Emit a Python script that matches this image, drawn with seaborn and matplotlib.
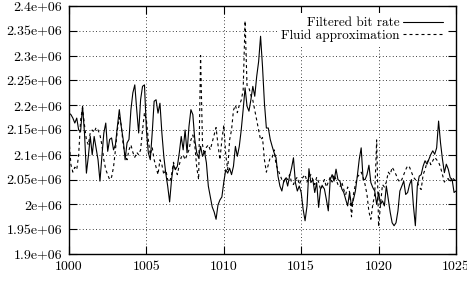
import numpy as np
import pandas as pd
import seaborn as sns
import matplotlib
matplotlib.use("Agg")
import matplotlib.pyplot as plt

# bit rate (in 1e6 units), one sample every 1/8 time unit, 1000 .. 1025
filtered = [
    2.184, 2.181, 2.174, 2.164, 2.174, 2.150, 2.147, 2.198,
    2.144, 2.063, 2.097, 2.137, 2.100, 2.137, 2.114, 2.090,
    2.047, 2.097, 2.144, 2.164, 2.107, 2.131, 2.134, 2.110,
    2.120, 2.157, 2.191, 2.157, 2.131, 2.090, 2.124, 2.131,
    2.191, 2.225, 2.241, 2.191, 2.144, 2.211, 2.238, 2.241,
    2.150, 2.104, 2.090, 2.144, 2.208, 2.211, 2.184, 2.204,
    2.144, 2.097, 2.063, 2.037, 2.005, 2.050, 2.080, 2.070,
    2.077, 2.104, 2.137, 2.110, 2.150, 2.104, 2.157, 2.191,
    2.181, 2.131, 2.104, 2.094, 2.117, 2.097, 2.107, 2.084,
    2.037, 2.016, 1.995, 1.985, 1.970, 1.999, 2.009, 2.015,
    2.045, 2.070, 2.063, 2.073, 2.060, 2.077, 2.117, 2.097,
    2.117, 2.150, 2.191, 2.235, 2.198, 2.188, 2.211, 2.238,
    2.218, 2.258, 2.288, 2.339, 2.278, 2.204, 2.154, 2.154,
    2.131, 2.117, 2.104, 2.094, 2.057, 2.037, 2.027, 2.047,
    2.053, 2.037, 2.057, 2.073, 2.094, 2.044, 2.027, 2.037,
    2.024, 1.990, 1.967, 1.997, 2.072, 2.044, 2.050, 2.024,
    2.044, 1.994, 2.031, 2.037, 2.031, 2.010, 1.987, 2.050,
    2.060, 2.047, 2.071, 2.050, 2.047, 2.031, 2.024, 2.010,
    1.997, 2.024, 1.997, 2.010, 2.027, 2.057, 2.091, 2.114,
    2.050, 2.050, 2.060, 2.079, 2.044, 2.034, 2.027, 2.000,
    2.024, 2.000, 2.007, 1.997, 2.037, 2.010, 1.984, 1.963,
    1.957, 1.963, 1.987, 2.027, 2.037, 2.047, 2.020, 2.024,
    2.040, 2.050, 1.997, 1.957, 2.037, 2.057, 2.060, 2.077,
    2.088, 2.081, 2.091, 2.101, 2.108, 2.101, 2.114, 2.168,
    2.124, 2.091, 2.064, 2.081, 2.071, 2.054, 2.050, 2.024,
    2.027,
]
fluid = [
    2.130, 2.080, 2.065, 2.075, 2.070, 2.100, 2.170, 2.195,
    2.160, 2.130, 2.120, 2.145, 2.150, 2.145, 2.155, 2.150,
    2.140, 2.120, 2.090, 2.070, 2.060, 2.050, 2.055, 2.075,
    2.110, 2.150, 2.175, 2.160, 2.120, 2.100, 2.090, 2.110,
    2.120, 2.105, 2.095, 2.105, 2.100, 2.110, 2.150, 2.185,
    2.170, 2.130, 2.100, 2.115, 2.090, 2.075, 2.060, 2.090,
    2.080, 2.060, 2.070, 2.050, 2.045, 2.060, 2.085, 2.070,
    2.060, 2.080, 2.095, 2.100, 2.090, 2.100, 2.110, 2.130,
    2.140, 2.120, 2.075, 2.050, 2.300, 2.120, 2.100, 2.115,
    2.120, 2.110, 2.125, 2.140, 2.155, 2.120, 2.090, 2.130,
    2.160, 2.100, 2.070, 2.130, 2.150, 2.190, 2.200, 2.185,
    2.200, 2.210, 2.230, 2.370, 2.240, 2.235, 2.220, 2.210,
    2.190, 2.170, 2.150, 2.130, 2.135, 2.090, 2.065, 2.080,
    2.095, 2.095, 2.110, 2.080, 2.070, 2.060, 2.050, 2.045,
    2.055, 2.050, 2.060, 2.045, 2.040, 2.050, 2.055, 2.040,
    2.050, 2.055, 2.060, 2.045, 2.055, 2.060, 2.050, 2.040,
    2.055, 2.045, 2.030, 2.040, 2.050, 2.035, 2.045, 2.055,
    2.045, 2.060, 2.050, 2.040, 2.035, 2.045, 2.030, 2.020,
    2.035, 2.025, 1.975, 2.020, 2.040, 2.055, 2.060, 2.065,
    2.055, 2.040, 2.020, 1.985, 1.970, 2.000, 2.020, 2.130,
    1.955, 2.000, 2.040, 2.035, 2.045, 2.065, 2.060, 2.075,
    2.068, 2.060, 2.050, 2.045, 2.050, 2.060, 2.070, 2.078,
    2.075, 2.065, 2.055, 2.050, 2.045, 2.035, 2.030, 2.060,
    2.070, 2.085, 2.090, 2.080, 2.088, 2.095, 2.090, 2.085,
    2.075, 2.060, 2.045, 2.050, 2.052, 2.045, 2.055, 2.050,
    2.048,
]
time = 1000 + np.arange(len(filtered)) / 8

series_names = ["Filtered bit rate", "Fluid approximation"]
xticks = [1000, 1005, 1010, 1015, 1020, 1025]
yticks = [1.9, 1.95, 2.0, 2.05, 2.1, 2.15, 2.2, 2.25, 2.3, 2.35, 2.4]
ylabels = ["1.9e+06", "1.95e+06", "2e+06", "2.05e+06", "2.1e+06", "2.15e+06",
           "2.2e+06", "2.25e+06", "2.3e+06", "2.35e+06", "2.4e+06"]

df = pd.DataFrame({
    "t": np.concatenate([time, time]),
    "rate": np.array(filtered + fluid) * 1e6,
    "series": [series_names[0]] * len(filtered) + [series_names[1]] * len(fluid),
})

sns.set_theme(style="ticks", rc={"axes.edgecolor": "black", "xtick.color": "black",
                                 "ytick.color": "black", "text.color": "black"})
plt.rcParams["font.family"] = ["cmr10", "DejaVu Serif"]
plt.rcParams["axes.formatter.use_mathtext"] = True

fig = plt.figure(figsize=(4.67, 2.81), dpi=100)
ax = fig.add_axes([69 / 467, 1 - 254 / 281, 387 / 467, 248 / 281])

sns.lineplot(data=df, x="t", y="rate", hue="series", style="series",
             palette=["black", "black"],
             dashes={series_names[0]: "", series_names[1]: (2.7, 2.7)},
             estimator=None, linewidth=0.8, legend=False, ax=ax)

ax.set_xlim(1000, 1025)
ax.set_ylim(1.9e6, 2.4e6)
ax.set_xticks(xticks)
ax.set_xticklabels([str(x) for x in xticks])
ax.set_yticks([v * 1e6 for v in yticks])
ax.set_yticklabels(ylabels)
ax.set_xlabel("")
ax.set_ylabel("")

ax.grid(True, color="black", linestyle=(0, (1, 3)), linewidth=0.6)
ax.set_axisbelow(True)
ax.tick_params(direction="in", top=True, right=True, length=6, width=0.8,
               labelsize=10, pad=5)
for s in ax.spines.values():
    s.set_linewidth(1.0)
    s.set_color("black")

leg = ax.legend(ax.lines[:2], series_names, loc="upper right",
                bbox_to_anchor=((447 - 69) / 387, (254 - 13) / 248),
                markerfirst=False, frameon=True, framealpha=1, facecolor="white",
                edgecolor="none", fancybox=False, borderaxespad=0, borderpad=0.3,
                handlelength=3.0, handletextpad=0.3, labelspacing=0.0, fontsize=9.5)

fig.savefig("out.png", dpi=100)
